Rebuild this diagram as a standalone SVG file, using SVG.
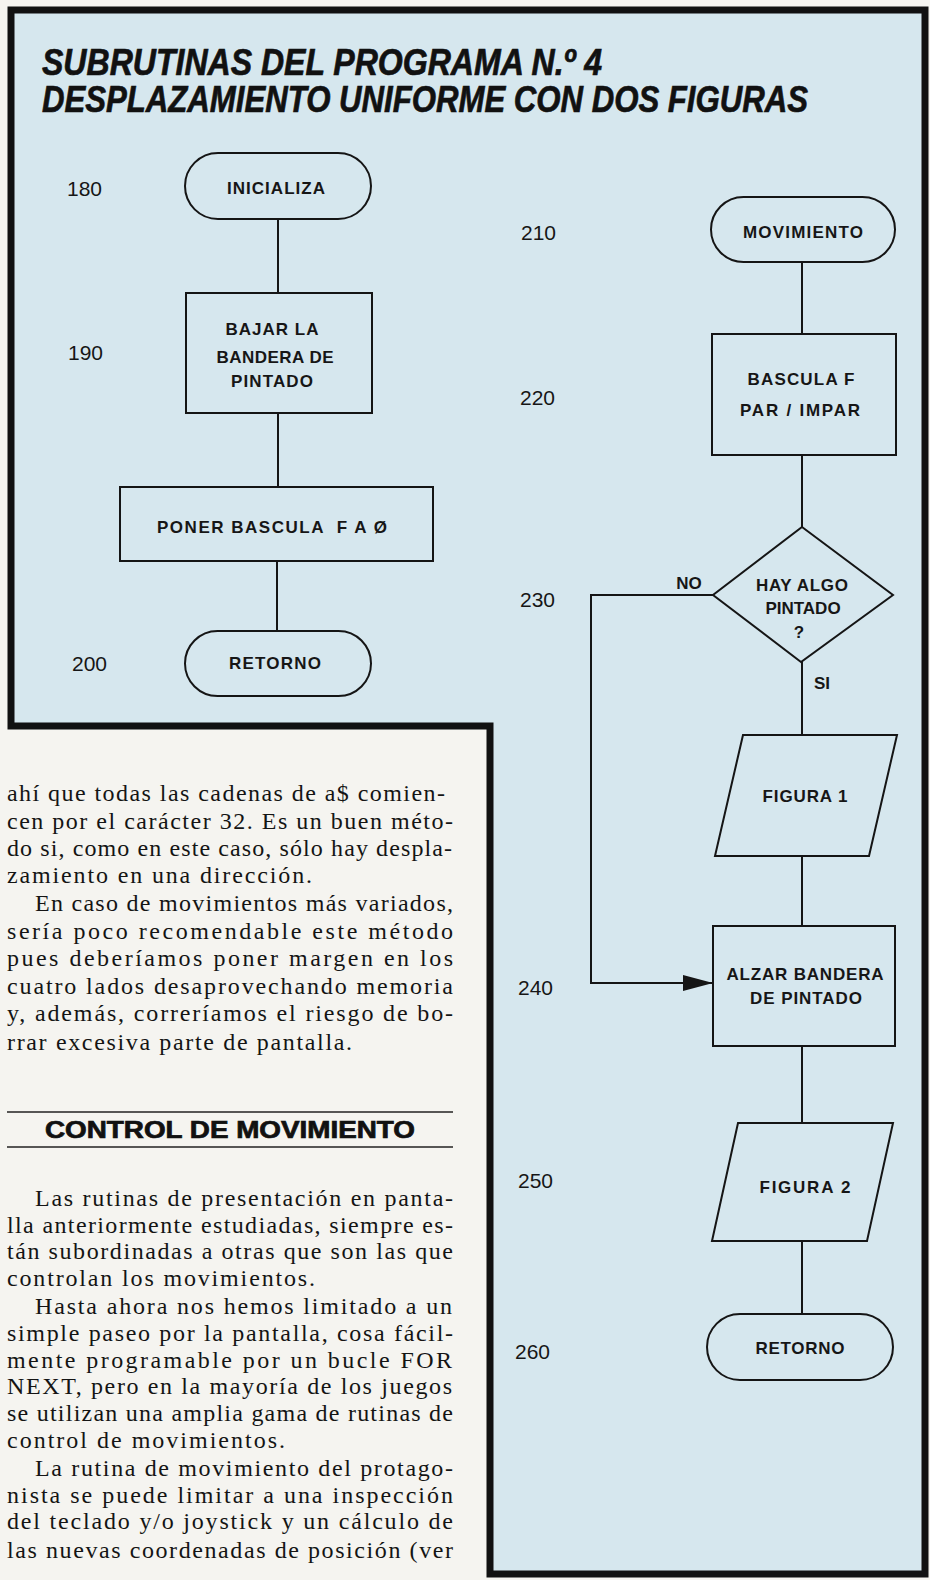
<svg xmlns="http://www.w3.org/2000/svg" width="930" height="1580" viewBox="0 0 930 1580">
  <defs>
    <marker id="arrow" viewBox="0 0 30 16" refX="30" refY="8" markerWidth="30" markerHeight="16" markerUnits="userSpaceOnUse" orient="auto">
      <path d="M0,0 L30,8 L0,16 Z" fill="#151515"/>
    </marker>
    <style>
      .shape { fill: none; stroke: #151515; stroke-width: 2; }
      .conn { fill: none; stroke: #151515; stroke-width: 2; }
      .lbl { font-family: "Liberation Sans", Arial, sans-serif; font-weight: bold; font-size: 17px; fill: #161616; text-anchor: middle; }
      .num { font-family: "Liberation Sans", Arial, sans-serif; font-size: 21px; fill: #161616; }
      .title { font-family: "Liberation Sans", Arial, sans-serif; font-weight: bold; font-style: italic; font-size: 37px; fill: #111; stroke: #111; stroke-width: 0.7; }
      .body { font-family: "Liberation Serif", "Times New Roman", serif; font-size: 24px; fill: #141414; }
      .head { font-family: "Liberation Sans", Arial, sans-serif; font-weight: bold; font-size: 23px; fill: #111; stroke: #111; stroke-width: 0.7; }
      .rule { stroke: #222; stroke-width: 1.6; }
    </style>
  </defs>

  <!-- page -->
  <rect x="0" y="0" width="930" height="1580" fill="#f5f4f0"/>
  <!-- blue panel -->
  <path d="M11,10 L925,10 L925,1574 L490,1574 L490,726 L11,726 Z" fill="#d6e7ee" stroke="#111" stroke-width="7" stroke-linejoin="miter"/>

  <!-- title -->
  <g id="title">
    <text class="title" x="42" y="75" textLength="560" lengthAdjust="spacingAndGlyphs">SUBRUTINAS DEL PROGRAMA N.º 4</text>
    <text class="title" x="42" y="112" textLength="766" lengthAdjust="spacingAndGlyphs">DESPLAZAMIENTO UNIFORME CON DOS FIGURAS</text>
  </g>

  <!-- connectors -->
  <g id="connectors">
    <line class="conn" x1="278" y1="219" x2="278" y2="293"/>
    <line class="conn" x1="278" y1="413" x2="278" y2="487"/>
    <line class="conn" x1="277" y1="561" x2="277" y2="631"/>
    <line class="conn" x1="802" y1="262" x2="802" y2="334"/>
    <line class="conn" x1="802" y1="455" x2="802" y2="527"/>
    <line class="conn" x1="802" y1="662" x2="802" y2="735"/>
    <line class="conn" x1="802" y1="856" x2="802" y2="926"/>
    <line class="conn" x1="802" y1="1046" x2="802" y2="1123"/>
    <line class="conn" x1="802" y1="1241" x2="802" y2="1314"/>
    <path class="conn" d="M713,595 L591,595 L591,983 L713,983" marker-end="url(#arrow)"/>
    <text class="lbl" x="689" y="589">NO</text>
    <text class="lbl" x="822" y="689">SI</text>
  </g>

  <!-- left chart -->
  <g id="n180">
    <text class="num" x="67" y="196">180</text>
    <rect class="shape" x="185" y="153" width="186" height="66" rx="33"/>
    <text class="lbl" x="276" y="194" textLength="98">INICIALIZA</text>
  </g>
  <g id="n190">
    <text class="num" x="68" y="360">190</text>
    <rect class="shape" x="186" y="293" width="186" height="120"/>
    <text class="lbl" x="272" y="335" textLength="93">BAJAR LA</text>
    <text class="lbl" x="275" y="363" textLength="117">BANDERA DE</text>
    <text class="lbl" x="272" y="387" textLength="82">PINTADO</text>
  </g>
  <g id="nponer">
    <rect class="shape" x="120" y="487" width="313" height="74"/>
    <text class="lbl" x="272" y="533" textLength="230" xml:space="preserve">PONER BASCULA  F A Ø</text>
  </g>
  <g id="n200">
    <text class="num" x="72" y="671">200</text>
    <rect class="shape" x="185" y="631" width="186" height="65" rx="32.5"/>
    <text class="lbl" x="275" y="669" textLength="92">RETORNO</text>
  </g>

  <!-- right chart -->
  <g id="n210">
    <text class="num" x="521" y="240">210</text>
    <rect class="shape" x="711" y="197" width="184" height="65" rx="32.5"/>
    <text class="lbl" x="803" y="238" textLength="120">MOVIMIENTO</text>
  </g>
  <g id="n220">
    <text class="num" x="520" y="405">220</text>
    <rect class="shape" x="712" y="334" width="184" height="121"/>
    <text class="lbl" x="801" y="385" textLength="107">BASCULA F</text>
    <text class="lbl" x="800" y="416" textLength="120">PAR / IMPAR</text>
  </g>
  <g id="n230">
    <text class="num" x="520" y="607">230</text>
    <polygon class="shape" points="802,527 893,595 801,662 713,595"/>
    <text class="lbl" x="802" y="591" textLength="92">HAY ALGO</text>
    <text class="lbl" x="803" y="614">PINTADO</text>
    <text class="lbl" x="799" y="638">?</text>
  </g>
  <g id="nfig1">
    <polygon class="shape" points="743,735 897,735 869,856 715,856"/>
    <text class="lbl" x="805" y="802" textLength="85">FIGURA 1</text>
  </g>
  <g id="n240">
    <text class="num" x="518" y="995">240</text>
    <rect class="shape" x="713" y="926" width="182" height="120"/>
    <text class="lbl" x="805" y="980" textLength="157">ALZAR BANDERA</text>
    <text class="lbl" x="806" y="1004" textLength="112">DE PINTADO</text>
  </g>
  <g id="n250">
    <text class="num" x="518" y="1188">250</text>
    <polygon class="shape" points="738,1123 893,1123 867,1241 712,1241"/>
    <text class="lbl" x="805" y="1193" textLength="91">FIGURA 2</text>
  </g>
  <g id="n260">
    <text class="num" x="515" y="1359">260</text>
    <rect class="shape" x="707" y="1314" width="186" height="66" rx="33"/>
    <text class="lbl" x="800" y="1354" textLength="89">RETORNO</text>
  </g>

  <!-- article text -->
  <g id="article">
    <text class="body" x="7" y="801" textLength="438">ahí que todas las cadenas de a$ comien-</text>
    <text class="body" x="7" y="829" textLength="446">cen por el carácter 32. Es un buen méto-</text>
    <text class="body" x="7" y="856" textLength="445">do si, como en este caso, sólo hay despla-</text>
    <text class="body" x="7" y="883" textLength="305">zamiento en una dirección.</text>
    <text class="body" x="35" y="911" textLength="418">En caso de movimientos más variados,</text>
    <text class="body" x="7" y="939" textLength="446">sería poco recomendable este método</text>
    <text class="body" x="7" y="966" textLength="446">pues deberíamos poner margen en los</text>
    <text class="body" x="7" y="994" textLength="446">cuatro lados desaprovechando memoria</text>
    <text class="body" x="7" y="1021" textLength="446">y, además, correríamos el riesgo de bo-</text>
    <text class="body" x="7" y="1050" textLength="345">rrar excesiva parte de pantalla.</text>

    <line class="rule" x1="7" y1="1112" x2="453" y2="1112"/>
    <text class="head" x="45" y="1138" textLength="370" lengthAdjust="spacingAndGlyphs">CONTROL DE MOVIMIENTO</text>
    <line class="rule" x1="7" y1="1147" x2="453" y2="1147"/>

    <text class="body" x="35" y="1206" textLength="418">Las rutinas de presentación en panta-</text>
    <text class="body" x="7" y="1233" textLength="446">lla anteriormente estudiadas, siempre es-</text>
    <text class="body" x="7" y="1259" textLength="446">tán subordinadas a otras que son las que</text>
    <text class="body" x="7" y="1286" textLength="308">controlan los movimientos.</text>
    <text class="body" x="35" y="1314" textLength="417">Hasta ahora nos hemos limitado a un</text>
    <text class="body" x="7" y="1341" textLength="446">simple paseo por la pantalla, cosa fácil-</text>
    <text class="body" x="7" y="1368" textLength="445">mente programable por un bucle FOR</text>
    <text class="body" x="7" y="1394" textLength="445">NEXT, pero en la mayoría de los juegos</text>
    <text class="body" x="7" y="1421" textLength="446">se utilizan una amplia gama de rutinas de</text>
    <text class="body" x="7" y="1448" textLength="278">control de movimientos.</text>
    <text class="body" x="35" y="1476" textLength="418">La rutina de movimiento del protago-</text>
    <text class="body" x="7" y="1503" textLength="446">nista se puede limitar a una inspección</text>
    <text class="body" x="7" y="1529" textLength="446">del teclado y/o joystick y un cálculo de</text>
    <text class="body" x="7" y="1558" textLength="446">las nuevas coordenadas de posición (ver</text>
  </g>
</svg>
